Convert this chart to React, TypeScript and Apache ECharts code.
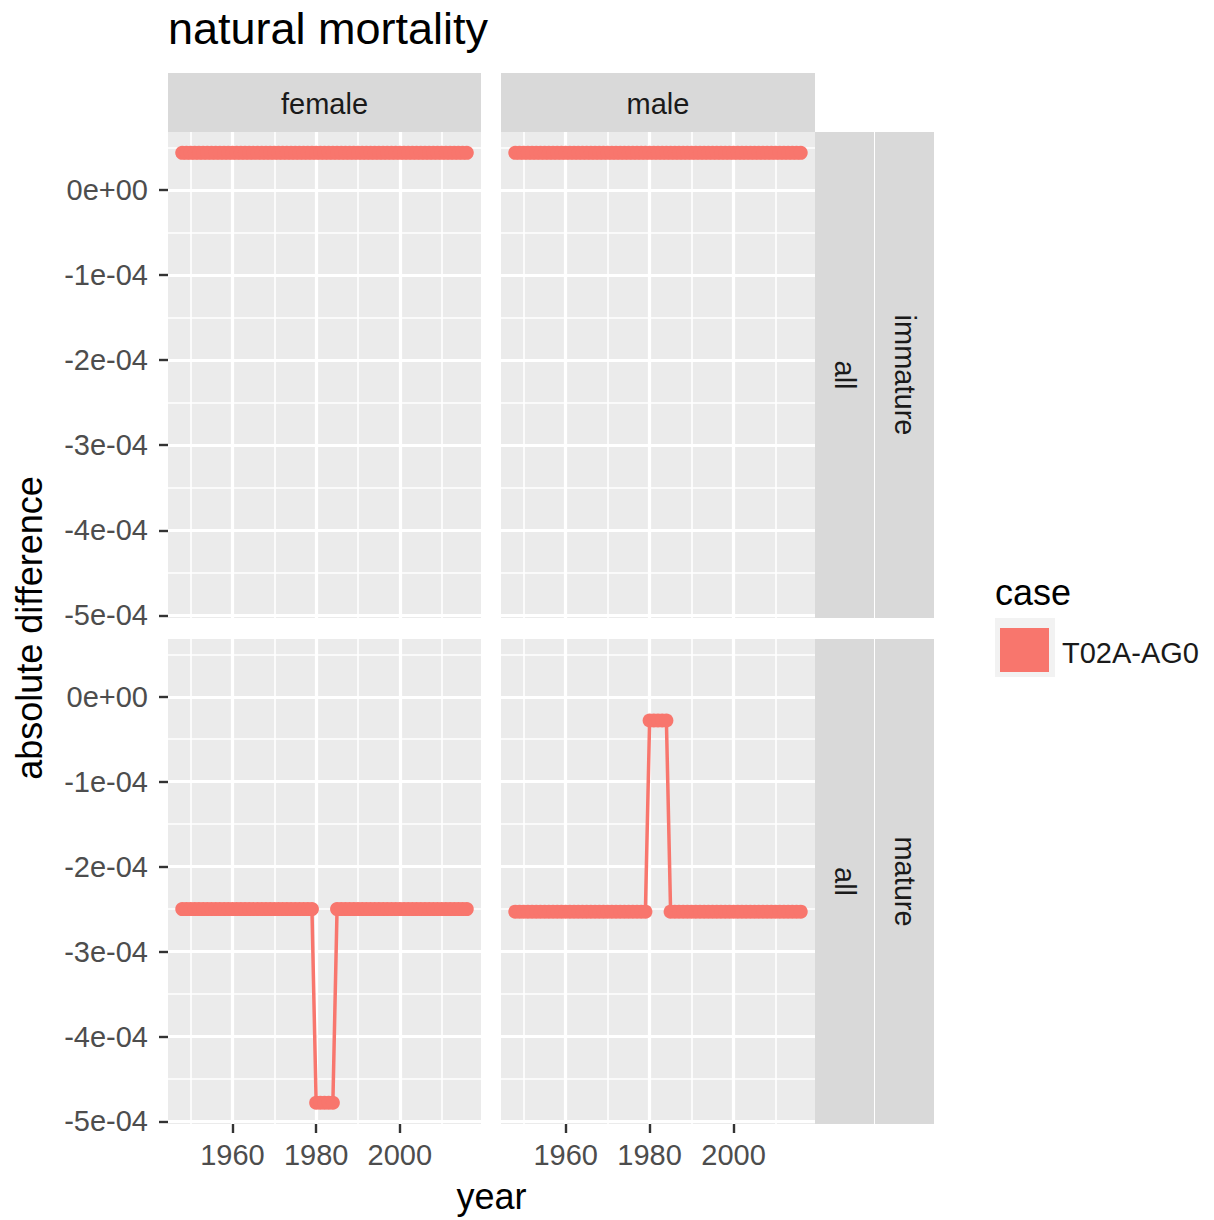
import React, { useEffect, useRef } from "react";
import * as echarts from "echarts";

// ---------- data ----------
const years = [
  1948, 1949, 1950, 1951, 1952, 1953, 1954, 1955, 1956, 1957,
  1958, 1959, 1960, 1961, 1962, 1963, 1964, 1965, 1966, 1967,
  1968, 1969, 1970, 1971, 1972, 1973, 1974, 1975, 1976, 1977,
  1978, 1979, 1980, 1981, 1982, 1983, 1984, 1985, 1986, 1987,
  1988, 1989, 1990, 1991, 1992, 1993, 1994, 1995, 1996, 1997,
  1998, 1999, 2000, 2001, 2002, 2003, 2004, 2005, 2006, 2007,
  2008, 2009, 2010, 2011, 2012, 2013, 2014, 2015, 2016,
];

const femaleImmature = [
  4.35e-5, 4.35e-5, 4.35e-5, 4.35e-5, 4.35e-5, 4.35e-5, 4.35e-5, 4.35e-5, 4.35e-5, 4.35e-5,
  4.35e-5, 4.35e-5, 4.35e-5, 4.35e-5, 4.35e-5, 4.35e-5, 4.35e-5, 4.35e-5, 4.35e-5, 4.35e-5,
  4.35e-5, 4.35e-5, 4.35e-5, 4.35e-5, 4.35e-5, 4.35e-5, 4.35e-5, 4.35e-5, 4.35e-5, 4.35e-5,
  4.35e-5, 4.35e-5, 4.35e-5, 4.35e-5, 4.35e-5, 4.35e-5, 4.35e-5, 4.35e-5, 4.35e-5, 4.35e-5,
  4.35e-5, 4.35e-5, 4.35e-5, 4.35e-5, 4.35e-5, 4.35e-5, 4.35e-5, 4.35e-5, 4.35e-5, 4.35e-5,
  4.35e-5, 4.35e-5, 4.35e-5, 4.35e-5, 4.35e-5, 4.35e-5, 4.35e-5, 4.35e-5, 4.35e-5, 4.35e-5,
  4.35e-5, 4.35e-5, 4.35e-5, 4.35e-5, 4.35e-5, 4.35e-5, 4.35e-5, 4.35e-5, 4.35e-5,
];

const maleImmature = [
  4.35e-5, 4.35e-5, 4.35e-5, 4.35e-5, 4.35e-5, 4.35e-5, 4.35e-5, 4.35e-5, 4.35e-5, 4.35e-5,
  4.35e-5, 4.35e-5, 4.35e-5, 4.35e-5, 4.35e-5, 4.35e-5, 4.35e-5, 4.35e-5, 4.35e-5, 4.35e-5,
  4.35e-5, 4.35e-5, 4.35e-5, 4.35e-5, 4.35e-5, 4.35e-5, 4.35e-5, 4.35e-5, 4.35e-5, 4.35e-5,
  4.35e-5, 4.35e-5, 4.35e-5, 4.35e-5, 4.35e-5, 4.35e-5, 4.35e-5, 4.35e-5, 4.35e-5, 4.35e-5,
  4.35e-5, 4.35e-5, 4.35e-5, 4.35e-5, 4.35e-5, 4.35e-5, 4.35e-5, 4.35e-5, 4.35e-5, 4.35e-5,
  4.35e-5, 4.35e-5, 4.35e-5, 4.35e-5, 4.35e-5, 4.35e-5, 4.35e-5, 4.35e-5, 4.35e-5, 4.35e-5,
  4.35e-5, 4.35e-5, 4.35e-5, 4.35e-5, 4.35e-5, 4.35e-5, 4.35e-5, 4.35e-5, 4.35e-5,
];

const femaleMature = [
  -2.5e-4, -2.5e-4, -2.5e-4, -2.5e-4, -2.5e-4, -2.5e-4, -2.5e-4, -2.5e-4, -2.5e-4, -2.5e-4,
  -2.5e-4, -2.5e-4, -2.5e-4, -2.5e-4, -2.5e-4, -2.5e-4, -2.5e-4, -2.5e-4, -2.5e-4, -2.5e-4,
  -2.5e-4, -2.5e-4, -2.5e-4, -2.5e-4, -2.5e-4, -2.5e-4, -2.5e-4, -2.5e-4, -2.5e-4, -2.5e-4,
  -2.5e-4, -2.5e-4, -4.78e-4, -4.78e-4, -4.78e-4, -4.78e-4, -4.78e-4, -2.5e-4, -2.5e-4, -2.5e-4,
  -2.5e-4, -2.5e-4, -2.5e-4, -2.5e-4, -2.5e-4, -2.5e-4, -2.5e-4, -2.5e-4, -2.5e-4, -2.5e-4,
  -2.5e-4, -2.5e-4, -2.5e-4, -2.5e-4, -2.5e-4, -2.5e-4, -2.5e-4, -2.5e-4, -2.5e-4, -2.5e-4,
  -2.5e-4, -2.5e-4, -2.5e-4, -2.5e-4, -2.5e-4, -2.5e-4, -2.5e-4, -2.5e-4, -2.5e-4,
];

const maleMature = [
  -2.53e-4, -2.53e-4, -2.53e-4, -2.53e-4, -2.53e-4, -2.53e-4, -2.53e-4, -2.53e-4, -2.53e-4, -2.53e-4,
  -2.53e-4, -2.53e-4, -2.53e-4, -2.53e-4, -2.53e-4, -2.53e-4, -2.53e-4, -2.53e-4, -2.53e-4, -2.53e-4,
  -2.53e-4, -2.53e-4, -2.53e-4, -2.53e-4, -2.53e-4, -2.53e-4, -2.53e-4, -2.53e-4, -2.53e-4, -2.53e-4,
  -2.53e-4, -2.53e-4, -0.28e-4, -0.28e-4, -0.28e-4, -0.28e-4, -0.28e-4, -2.53e-4, -2.53e-4, -2.53e-4,
  -2.53e-4, -2.53e-4, -2.53e-4, -2.53e-4, -2.53e-4, -2.53e-4, -2.53e-4, -2.53e-4, -2.53e-4, -2.53e-4,
  -2.53e-4, -2.53e-4, -2.53e-4, -2.53e-4, -2.53e-4, -2.53e-4, -2.53e-4, -2.53e-4, -2.53e-4, -2.53e-4,
  -2.53e-4, -2.53e-4, -2.53e-4, -2.53e-4, -2.53e-4, -2.53e-4, -2.53e-4, -2.53e-4, -2.53e-4,
];

const colLabels = ["female", "male"];
const rowLabels = ["immature", "mature"];
const rowInner = ["all", "all"];
const caseName = "T02A-AG0";

const xMajor = [1960, 1980, 2000];
const xMinor = [1950, 1970, 1990, 2010];
const xMin = 1944.6;
const xMax = 2019.4;

const yMajor = [0, -1e-4, -2e-4, -3e-4, -4e-4, -5e-4];
const yMajorLabels = ["0e+00", "-1e-04", "-2e-04", "-3e-04", "-4e-04", "-5e-04"];
const yMinor = [5e-5, -5e-5, -1.5e-4, -2.5e-4, -3.5e-4, -4.5e-4];
const yMin = -5.03e-4;
const yMax = 0.68e-4;

// ---------- style ----------
const FONT = "'Liberation Sans', Arial, Helvetica, sans-serif";
const RED = "#F8766D";
const PANEL = "#EBEBEB";
const STRIP = "#D9D9D9";

const panels = [
  { left: 168, top: 132, width: 313, height: 486, data: femaleImmature, showX: false, showY: true },
  { left: 501, top: 132, width: 314, height: 486, data: maleImmature, showX: false, showY: false },
  { left: 168, top: 639, width: 313, height: 485, data: femaleMature, showX: true, showY: true },
  { left: 501, top: 639, width: 314, height: 485, data: maleMature, showX: true, showY: false },
];

function yLabel(v: number): string {
  let best = 0;
  for (let i = 0; i < yMajor.length; i++) {
    if (Math.abs(yMajor[i] - v) < Math.abs(yMajor[best] - v)) best = i;
  }
  return yMajorLabels[best];
}

function buildOption() {
  const grid: any[] = [];
  const xAxis: any[] = [];
  const yAxis: any[] = [];
  const series: any[] = [];

  panels.forEach((p) => {
    grid.push({
      left: p.left,
      top: p.top,
      width: p.width,
      height: p.height,
      show: true,
      backgroundColor: PANEL,
      borderWidth: 0,
      containLabel: false,
      outerBoundsMode: "none",
    });
  });

  // major axes
  panels.forEach((p, i) => {
    xAxis.push({
      type: "value",
      gridIndex: i,
      position: "bottom",
      min: xMin,
      max: xMax,
      axisLine: { show: false, onZero: false },
      axisTick: {
        show: p.showX,
        length: 9,
        customValues: xMajor,
        lineStyle: { color: "#333333", width: 2.4 },
      },
      axisLabel: {
        show: p.showX,
        customValues: xMajor,
        margin: 16,
        fontSize: 29,
        fontFamily: FONT,
        color: "#4D4D4D",
        formatter: (v: number) => String(Math.round(v)),
      },
      splitLine: { show: true, lineStyle: { color: "#FFFFFF", width: 3.2 } },
      z: 1,
    });
    yAxis.push({
      type: "value",
      gridIndex: i,
      position: "left",
      min: yMin,
      max: yMax,
      axisLine: { show: false, onZero: false },
      axisTick: {
        show: p.showY,
        length: 9,
        customValues: yMajor,
        lineStyle: { color: "#333333", width: 2.4 },
      },
      axisLabel: {
        show: p.showY,
        customValues: yMajor,
        margin: 20,
        fontSize: 29,
        fontFamily: FONT,
        color: "#4D4D4D",
        formatter: (v: number) => yLabel(v),
      },
      splitLine: { show: true, lineStyle: { color: "#FFFFFF", width: 3.2 } },
      z: 1,
    });
  });
  // minor axes
  panels.forEach((p, i) => {
    xAxis.push({
      type: "value",
      gridIndex: i,
      position: "bottom",
      min: xMin,
      max: xMax,
      axisLine: { show: false, onZero: false },
      axisTick: { show: false, customValues: xMinor },
      axisLabel: { show: false, customValues: xMinor },
      splitLine: { show: true, lineStyle: { color: "#FFFFFF", width: 1.6 } },
      z: 0,
    });
    yAxis.push({
      type: "value",
      gridIndex: i,
      position: "left",
      min: yMin,
      max: yMax,
      axisLine: { show: false, onZero: false },
      axisTick: { show: false, customValues: yMinor },
      axisLabel: { show: false, customValues: yMinor },
      splitLine: { show: true, lineStyle: { color: "#FFFFFF", width: 1.6 } },
      z: 0,
    });
  });

  panels.forEach((p, i) => {
    series.push({
      type: "line",
      name: caseName,
      xAxisIndex: i,
      yAxisIndex: i,
      data: years.map((yr, k) => [yr, p.data[k]]),
      symbol: "circle",
      symbolSize: 14,
      showSymbol: true,
      lineStyle: { color: RED, width: 3.5 },
      itemStyle: { color: RED, borderWidth: 0 },
      emphasis: { disabled: true },
      silent: true,
      z: 5,
    });
  });

  const txt = (text: string, x: number, y: number, size: number, color: string, align: string, rotation = 0) => ({
    type: "text",
    x,
    y,
    rotation,
    silent: true,
    z: 100,
    style: {
      text,
      fill: color,
      fontSize: size,
      fontFamily: FONT,
      textAlign: align,
      textVerticalAlign: "middle",
    },
  });

  const graphic: any[] = [];
  // title
  graphic.push(txt("natural mortality", 168, 28, 45, "#000000", "left"));
  // column strips
  const colStrips = [
    { x: 168, w: 313 },
    { x: 501, w: 314 },
  ];
  colStrips.forEach((s, i) => {
    graphic.push({ type: "rect", shape: { x: s.x, y: 73, width: s.w, height: 59 }, style: { fill: STRIP }, silent: true, z: 50 });
    graphic.push(txt(colLabels[i], s.x + s.w / 2, 104, 29, "#1A1A1A", "center"));
  });
  // row strips
  const rowStrips = [
    { y: 132, h: 486 },
    { y: 639, h: 485 },
  ];
  rowStrips.forEach((r, i) => {
    graphic.push({ type: "rect", shape: { x: 815, y: r.y, width: 59, height: r.h }, style: { fill: STRIP }, silent: true, z: 50 });
    graphic.push({ type: "rect", shape: { x: 875, y: r.y, width: 59, height: r.h }, style: { fill: STRIP }, silent: true, z: 50 });
    graphic.push(txt(rowInner[i], 844.5, r.y + r.h / 2, 29, "#1A1A1A", "center", -Math.PI / 2));
    graphic.push(txt(rowLabels[i], 904.5, r.y + r.h / 2, 29, "#1A1A1A", "center", -Math.PI / 2));
  });
  // axis titles
  graphic.push(txt("year", 491.5, 1196, 36, "#000000", "center"));
  graphic.push(txt("absolute difference", 29.5, 628, 36, "#000000", "center", Math.PI / 2));
  // legend
  graphic.push(txt("case", 995, 592.5, 36, "#000000", "left"));
  graphic.push({ type: "rect", shape: { x: 995, y: 618, width: 60, height: 59 }, style: { fill: "#F2F2F2" }, silent: true, z: 50 });
  graphic.push({ type: "rect", shape: { x: 1000, y: 628, width: 49, height: 44 }, style: { fill: RED }, silent: true, z: 51 });
  graphic.push(txt(caseName, 1062, 653, 29, "#1A1A1A", "left"));

  return {
    animation: false,
    backgroundColor: "#FFFFFF",
    grid,
    xAxis,
    yAxis,
    series,
    graphic,
  };
}

export default function App() {
  const ref = useRef<HTMLDivElement>(null);
  useEffect(() => {
    document.body.style.margin = "0";
    if (!ref.current) return;
    const chart = echarts.init(ref.current, undefined, { renderer: "svg" });
    chart.setOption(buildOption() as any);
    return () => {
      chart.dispose();
    };
  }, []);
  return (
    <div
      ref={ref}
      style={{ position: "fixed", left: 0, top: 0, width: 1214, height: 1220, background: "#FFFFFF" }}
    />
  );
}
